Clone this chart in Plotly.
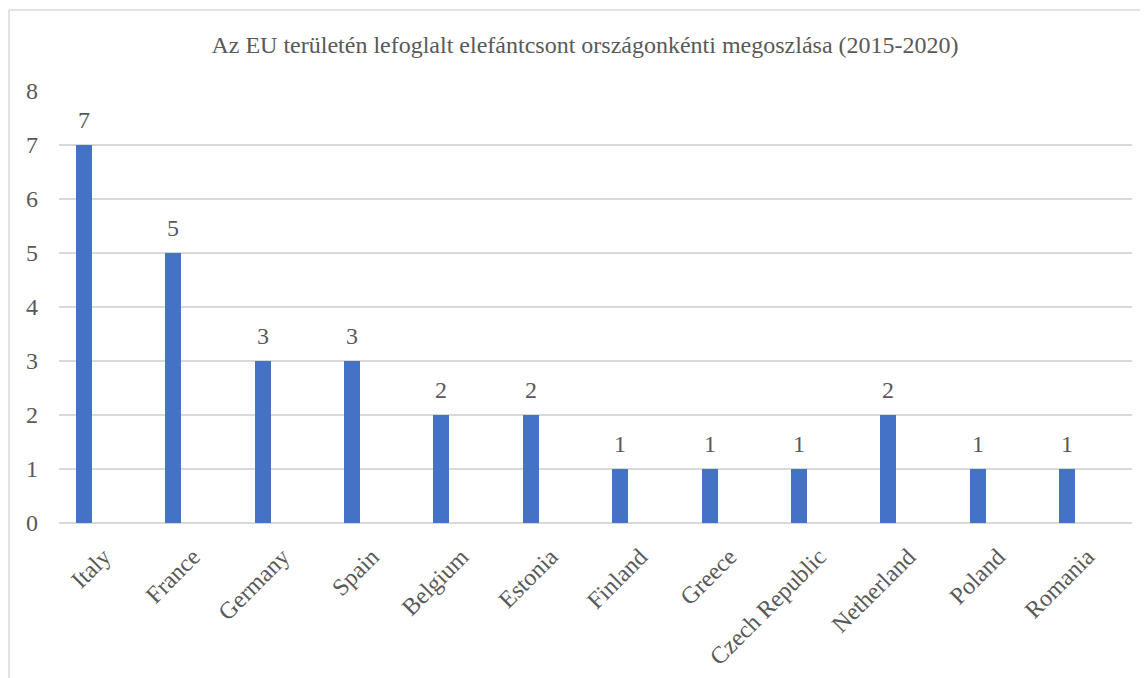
import plotly.graph_objects as go

title = "Az EU területén lefoglalt elefántcsont országonkénti megoszlása (2015-2020)"
categories = ["Italy", "France", "Germany", "Spain", "Belgium", "Estonia", "Finland",
              "Greece", "Czech Republic", "Netherland", "Poland", "Romania"]
values = [7, 5, 3, 3, 2, 2, 1, 1, 1, 2, 1, 1]
y_ticks = [0, 1, 2, 3, 4, 5, 6, 7, 8]

OFF = 8  # page body margin
W, H = 1148 - OFF, 678 - OFF
L, R, T, B = 59 - OFF, 16, 91 - OFF, 155
pw, ph = W - L - R, H - T - B

FONT = "Times New Roman, Liberation Serif, DejaVu Serif, serif"
TXT = "#595959"
GRID = "#D9D9D9"
BAR = "#4472C4"
FS = 24

idx = list(range(len(categories)))
bar_shift = -0.224
bar_x = [i + bar_shift for i in idx]

fig = go.Figure()
fig.add_trace(go.Bar(
    x=bar_x, y=values, width=0.179,
    marker=dict(color=BAR, line=dict(width=0)),
    hoverinfo="skip", showlegend=False,
))

annotations = []
for x, v in zip(bar_x, values):
    annotations.append(dict(
        x=x, y=v, xref="x", yref="y", text=str(v), showarrow=False,
        yanchor="middle", yshift=25,
        font=dict(family=FONT, size=FS, color=TXT),
    ))

# chart border (left and top), page pixel coords -> paper
def px_x(p):
    return (p - OFF - L) / pw

def px_y(p):
    return (H - B - (p - OFF)) / ph

shapes = [
    dict(type="line", xref="paper", yref="paper", x0=px_x(9), x1=px_x(9),
         y0=px_y(10), y1=px_y(690), line=dict(color=GRID, width=1.5)),
    dict(type="line", xref="paper", yref="paper", x0=px_x(9), x1=px_x(1160),
         y0=px_y(10), y1=px_y(10), line=dict(color=GRID, width=1.5)),
]

fig.update_layout(
    width=W, height=H,
    margin=dict(l=L, r=R, t=T, b=B, pad=0, autoexpand=False),
    paper_bgcolor="white", plot_bgcolor="white",
    title=dict(text=title, x=(585 - OFF - L) / pw, xref="paper", xanchor="center",
               y=1 - (45 - OFF) / H, yanchor="middle", yref="container",
               automargin=False,
               font=dict(family=FONT, size=FS, color=TXT)),
    xaxis=dict(range=[-0.5, len(categories) - 0.5], tickmode="array",
               tickvals=idx, ticktext=categories, tickangle=-45,
               showgrid=False, zeroline=False, showline=False, ticks="",
               ticklabelstandoff=14, automargin=False,
               tickfont=dict(family=FONT, size=FS, color=TXT)),
    yaxis=dict(range=[0, 8], tickmode="array", tickvals=y_ticks,
               showgrid=True, gridcolor=GRID, gridwidth=1.5,
               zeroline=True, zerolinecolor=GRID, zerolinewidth=1.5,
               showline=False, ticks="", ticklabelstandoff=20, automargin=False,
               tickfont=dict(family=FONT, size=FS, color=TXT)),
    annotations=annotations,
    shapes=shapes,
    bargap=0,
)

fig.write_html("out.html")
